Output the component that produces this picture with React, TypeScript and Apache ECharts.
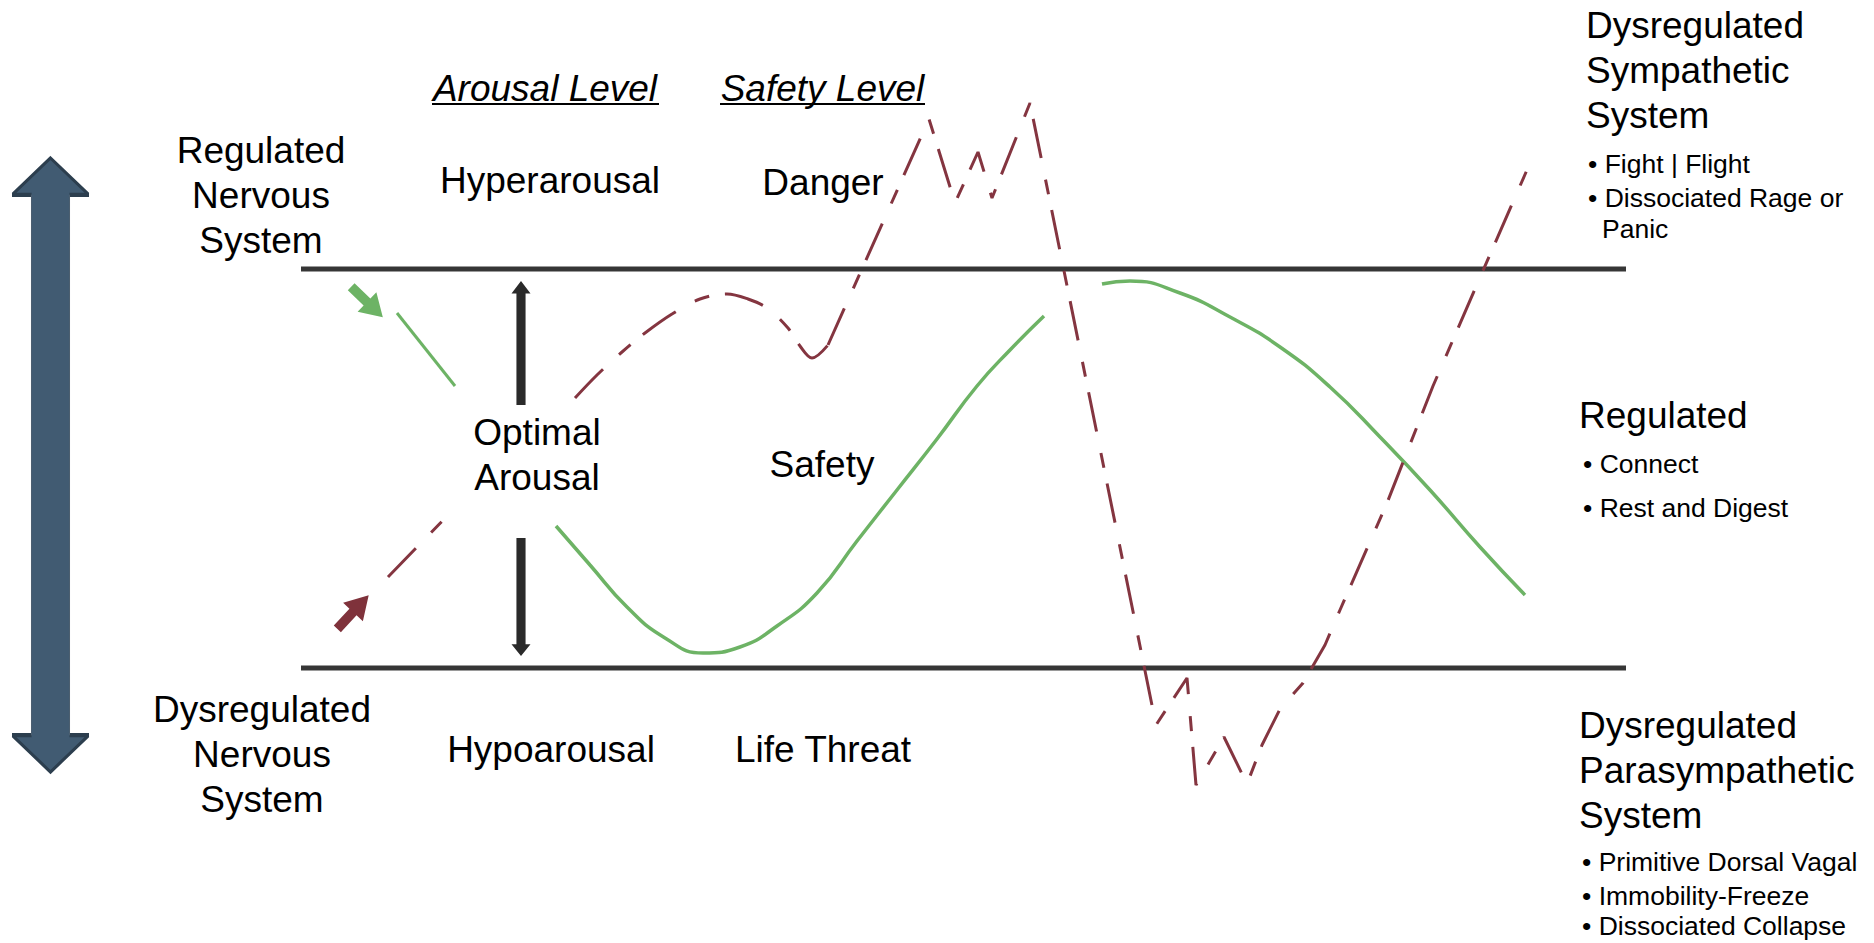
import React, { useEffect, useRef } from "react";
import * as echarts from "echarts";

const CANVAS_W = 1874;
const CANVAS_H = 943;
const FONT = '"Liberation Sans", Arial, Helvetica, sans-serif';

// Window-of-tolerance boundaries (x, y in diagram units = page pixels)
const upperBoundary: number[][] = [[301, 269], [1626, 269]];
const lowerBoundary: number[][] = [[301, 668], [1626, 668]];

// Green (safety / regulated) path
const greenLead: number[][] = [[397, 313], [455, 386]];
const greenWave: number[][] = [
  [556, 526], [590, 565], [627, 607], [665, 638], [703, 653], [740, 647], [777, 626],
  [817, 593], [857, 541], [897, 490], [937, 439], [977, 386], [1010, 350], [1044, 316],
];
const greenRegulated: number[][] = [
  [1102, 284], [1130, 281], [1180, 293], [1230, 317], [1280, 347], [1330, 387],
  [1380, 437], [1430, 490], [1480, 547], [1525, 595],
];

// Dark red (dysregulated) path
const redLead: number[][] = [[388, 577], [450, 513]];
const redCurve: number[][] = [
  [575, 398], [597, 375], [622, 352], [645, 333], [672, 314], [700, 299], [727, 294],
  [748, 299], [767, 308], [788, 328], [800, 346], [812, 358], [828, 345],
];
const redZigzag: number[][] = [
  [828, 345], [929, 119], [955, 203], [978, 152], [992, 198], [1030, 103], [1156, 725],
  [1187, 678], [1196, 785], [1224, 737], [1247, 784], [1262, 745], [1280, 709], [1303, 683],
  [1325, 645], [1340, 610], [1387, 503], [1433, 386], [1475, 289], [1530, 163],
];

// Arrow anchor points
const bigArrowPoint: number[][] = [[50.5, 465]];
const upArrowPoint: number[][] = [[521, 343]];
const downArrowPoint: number[][] = [[521, 597]];
const greenArrowPoint: number[][] = [[367, 302]];
const redArrowPoint: number[][] = [[353, 612]];

// Text content
const leftTopLines = ["Regulated", "Nervous", "System"];
const leftBottomLines = ["Dysregulated", "Nervous", "System"];
const headerLabels = ["Arousal Level", "Safety Level"];
const arousalLabels = ["Hyperarousal", "Hypoarousal"];
const safetyLabels = ["Danger", "Safety", "Life Threat"];
const optimalLines = ["Optimal", "Arousal"];
const sympTitle = ["Dysregulated", "Sympathetic", "System"];
const sympBullets = ["• Fight | Flight", "• Dissociated Rage or", "Panic"];
const regTitle = ["Regulated"];
const regBullets = ["• Connect", "• Rest and Digest"];
const paraTitle = ["Dysregulated", "Parasympathetic", "System"];
const paraBullets = ["• Primitive Dorsal Vagal", "• Immobility-Freeze", "• Dissociated Collapse"];

const GREEN = "#6DB365";
const RED = "#843540";
const DARK = "#363636";

const txt = (text: string, x: number, y: number, size: number, align = "center", italic = false) => ({
  type: "text",
  x,
  y,
  z: 100,
  silent: true,
  style: {
    text,
    fontSize: size,
    fontFamily: FONT,
    fontStyle: italic ? "italic" : "normal",
    fill: "#000",
    align,
    verticalAlign: "middle",
    textAlign: align,
    textVerticalAlign: "middle",
  },
});

const underline = (x1: number, x2: number, y: number) => ({
  type: "line",
  z: 100,
  silent: true,
  shape: { x1, y1: y, x2, y2: y },
  style: { stroke: "#000", lineWidth: 2 },
});

const lineSeries = (data: number[][], color: string, width: number, extra: any = {}) => ({
  type: "line",
  data,
  symbol: "none",
  showSymbol: false,
  silent: true,
  lineStyle: { color, width, cap: "butt", ...(extra.lineStyle || {}) },
  ...Object.fromEntries(Object.entries(extra).filter(([k]) => k !== "lineStyle")),
});

const arrowSeries = (data: number[][], path: string, size: number[], color: string, rotate = 0, border?: string) => ({
  type: "scatter",
  data,
  symbol: path,
  symbolSize: size,
  symbolRotate: rotate,
  silent: true,
  z: 5,
  itemStyle: { color, opacity: 1, borderColor: border || color, borderWidth: border ? 1.5 : 0 },
});

const BLOCK_UP = "path://M50,0 L100,50 L68,50 L68,100 L32,100 L32,50 L0,50 Z";
const THIN_UP = "path://M50,0 L100,10 L74,10 L74,100 L26,100 L26,10 L0,10 Z";
const THIN_DOWN = "path://M26,0 L74,0 L74,90 L100,90 L50,100 L0,90 L26,90 Z";
const DOUBLE = "path://M50,0 L100,6 L75,6 L75,94 L100,94 L50,100 L0,94 L25,94 L25,6 L0,6 Z";

export default function App() {
  const ref = useRef<HTMLDivElement>(null);

  useEffect(() => {
    if (!ref.current) return;
    const chart = echarts.init(ref.current, undefined, { renderer: "svg" });
    const dash = [40, 22, 15, 16];

    const graphic: any[] = [];
    leftTopLines.forEach((t, i) => graphic.push(txt(t, 261, 150 + i * 45, 37)));
    leftBottomLines.forEach((t, i) => graphic.push(txt(t, 262, 709 + i * 45, 37)));
    graphic.push(txt(headerLabels[0], 545, 88, 37, "center", true));
    graphic.push(txt(headerLabels[1], 822.5, 88, 37, "center", true));
    graphic.push(underline(432, 659, 104));
    graphic.push(underline(720, 925, 104));
    graphic.push(txt(arousalLabels[0], 550, 180, 37));
    graphic.push(txt(arousalLabels[1], 551, 749, 37));
    graphic.push(txt(safetyLabels[0], 823, 182, 37));
    graphic.push(txt(safetyLabels[1], 822, 464, 37));
    graphic.push(txt(safetyLabels[2], 823, 749, 37));
    optimalLines.forEach((t, i) => graphic.push(txt(t, 537, 432 + i * 45, 37)));
    sympTitle.forEach((t, i) => graphic.push(txt(t, 1586, 25 + i * 45, 37, "left")));
    graphic.push(txt(sympBullets[0], 1588, 164, 26.5, "left"));
    graphic.push(txt(sympBullets[1], 1588, 198, 26.5, "left"));
    graphic.push(txt(sympBullets[2], 1602, 229, 26.5, "left"));
    graphic.push(txt(regTitle[0], 1579, 415, 37, "left"));
    regBullets.forEach((t, i) => graphic.push(txt(t, 1583, 464 + i * 44, 26.5, "left")));
    paraTitle.forEach((t, i) => graphic.push(txt(t, 1579, 725 + i * 45, 37, "left")));
    const paraY = [862, 896, 926];
    paraBullets.forEach((t, i) => graphic.push(txt(t, 1582, paraY[i], 26.5, "left")));

    chart.setOption({
      animation: false,
      backgroundColor: "#ffffff",
      grid: { left: 0, top: 0, right: 0, bottom: 0, containLabel: false },
      xAxis: { type: "value", min: 0, max: CANVAS_W, show: false },
      yAxis: { type: "value", min: 0, max: CANVAS_H, inverse: true, show: false },
      tooltip: { show: false },
      series: [
        lineSeries(upperBoundary, DARK, 5),
        lineSeries(lowerBoundary, DARK, 5),
        lineSeries(greenLead, GREEN, 3),
        lineSeries(greenWave, GREEN, 3.5, { smooth: 0.5 }),
        lineSeries(greenRegulated, GREEN, 3.5, { smooth: 0.5 }),
        lineSeries(redLead, RED, 3, { lineStyle: { type: dash } }),
        lineSeries(redCurve, RED, 3, { smooth: 0.35, lineStyle: { type: dash } }),
        lineSeries(redZigzag, RED, 3, { lineStyle: { type: dash } }),
        arrowSeries(bigArrowPoint, DOUBLE, [77, 614], "#415B72", 0, "#2C3E4E"),
        arrowSeries(upArrowPoint, THIN_UP, [19, 124], "#2A2A2A"),
        arrowSeries(downArrowPoint, THIN_DOWN, [19, 118], "#2A2A2A"),
        arrowSeries(greenArrowPoint, BLOCK_UP, [27, 44], GREEN, -134),
        arrowSeries(redArrowPoint, BLOCK_UP, [27, 46], "#7F323B", -43),
      ],
      graphic,
    });

    return () => chart.dispose();
  }, []);

  return (
    <div style={{ position: "fixed", left: 0, top: 0, width: CANVAS_W, height: CANVAS_H, background: "#fff" }}>
      <div ref={ref} style={{ width: CANVAS_W, height: CANVAS_H }} />
    </div>
  );
}
